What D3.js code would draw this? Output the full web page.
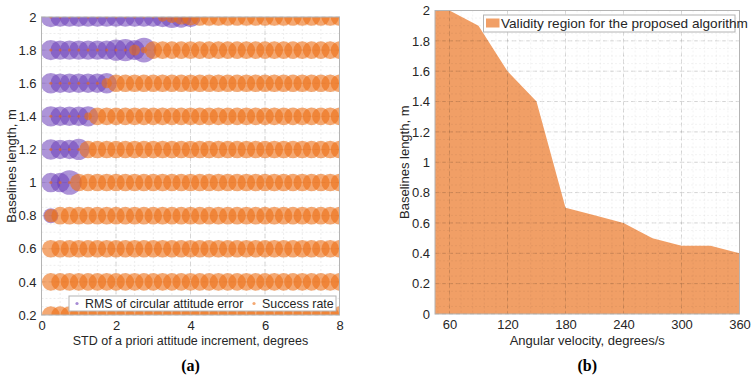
<!DOCTYPE html>
<html>
<head>
<meta charset="utf-8">
<script src="https://cdn.jsdelivr.net/npm/d3@7"></script>
<style>
  body { margin: 0; background: #fff; }
  svg { font-family: "Liberation Sans", Arial, sans-serif; }
</style>
</head>
<body>
<svg id="chart" width="756" height="377"></svg>
<script>
// ---- panel (a) data ----
const stdIncrement = [0.25, 0.5, 0.75, 1, 1.25, 1.5, 1.75, 2, 2.25, 2.5, 2.75, 3, 3.25, 3.5, 3.75, 4,
                      4.25, 4.5, 4.75, 5, 5.25, 5.5, 5.75, 6, 6.25, 6.5, 6.75, 7, 7.25, 7.5, 7.75, 8];
const baselineRows = [2, 1.8, 1.6, 1.4, 1.2, 1, 0.8, 0.6, 0.4, 0.2];

// RMS of circular attitude error (only where it was computed)
const rmsError = [
  [1.1, 1, 1, 1, 1, 1, 1, 1, 1, 1, 1, 1, 1.1, 1.3, 1.2, 1.1],
  [1.1, 1, 1, 1, 1, 1, 1, 1.2, 1.3, 1.1, 1.6],
  [1.1, 1, 1, 1, 1, 1, 1.1],
  [1.1, 1, 1, 1, 1.1],
  [1.1, 1, 1, 1.2],
  [1.0, 1, 1.6],
  [0.6],
  [],
  [],
  []
];

const successRate = [
  [0, 0, 0, 0, 0, 0, 0, 0, 0, 0, 0, 0, 0.2, 0.4, 0.7, 0.9, 1, 1, 1, 1, 1, 1, 1, 1, 1, 1, 1, 1, 1, 1, 1, 1],
  [0, 0, 0, 0, 0, 0, 0, 0, 0, 0.3, 0.05, 1, 1, 1, 1, 1, 1, 1, 1, 1, 1, 1, 1, 1, 1, 1, 1, 1, 1, 1, 1, 1],
  [0, 0, 0, 0, 0, 0, 0.25, 1, 1, 1, 1, 1, 1, 1, 1, 1, 1, 1, 1, 1, 1, 1, 1, 1, 1, 1, 1, 1, 1, 1, 1, 1],
  [0, 0, 0, 0, 0.1, 1, 1, 1, 1, 1, 1, 1, 1, 1, 1, 1, 1, 1, 1, 1, 1, 1, 1, 1, 1, 1, 1, 1, 1, 1, 1, 1],
  [0, 0, 0, 0, 1, 1, 1, 1, 1, 1, 1, 1, 1, 1, 1, 1, 1, 1, 1, 1, 1, 1, 1, 1, 1, 1, 1, 1, 1, 1, 1, 1],
  [0, 0, 0, 1, 1, 1, 1, 1, 1, 1, 1, 1, 1, 1, 1, 1, 1, 1, 1, 1, 1, 1, 1, 1, 1, 1, 1, 1, 1, 1, 1, 1],
  [0.5, 1, 1, 1, 1, 1, 1, 1, 1, 1, 1, 1, 1, 1, 1, 1, 1, 1, 1, 1, 1, 1, 1, 1, 1, 1, 1, 1, 1, 1, 1, 1],
  [1, 1, 1, 1, 1, 1, 1, 1, 1, 1, 1, 1, 1, 1, 1, 1, 1, 1, 1, 1, 1, 1, 1, 1, 1, 1, 1, 1, 1, 1, 1, 1],
  [1, 1, 1, 1, 1, 1, 1, 1, 1, 1, 1, 1, 1, 1, 1, 1, 1, 1, 1, 1, 1, 1, 1, 1, 1, 1, 1, 1, 1, 1, 1, 1],
  [1, 1, 1, 1, 1, 1, 1, 1, 1, 1, 1, 1, 1, 1, 1, 1, 1, 1, 1, 1, 1, 1, 1, 1, 1, 1, 1, 1, 1, 1, 1, 1]
];

const xTicksA = [0, 2, 4, 6, 8];
const yTicksA = [0.2, 0.4, 0.6, 0.8, 1, 1.2, 1.4, 1.6, 1.8, 2];

// ---- panel (b) data ----
const angularVelocity = [45, 60, 90, 120, 150, 180, 210, 240, 270, 300, 330, 360];
const validBaseline   = [2, 2, 1.9, 1.6, 1.4, 0.7, 0.65, 0.6, 0.5, 0.45, 0.45, 0.4];
const xTicksB = [60, 120, 180, 240, 300, 360];
const yTicksB = [0, 0.2, 0.4, 0.6, 0.8, 1, 1.2, 1.4, 1.6, 1.8, 2];

const purple = "rgb(106,61,184)";
const orange = "rgb(237,110,20)";
const areaFill = "#F19F66";
const textColor = "#262626";
const boxColor = "#b4b4b4";

const svg = d3.select("#chart");

function drawGrid(g, x, y, box, xMinor, yMinor, xMajor, yMajor, onTop) {
  const grid = g.append("g").attr("class", "grid");
  const minorColor = onTop ? "rgba(0,0,0,0.05)" : "#ededed";
  const majorColor = onTop ? "rgba(0,0,0,0.13)" : "#d6d6d6";
  grid.selectAll("line.xminor").data(xMinor).join("line")
    .attr("x1", x).attr("x2", x).attr("y1", box.y0).attr("y2", box.y1)
    .attr("stroke", minorColor).attr("stroke-dasharray", "2,2");
  grid.selectAll("line.yminor").data(yMinor).join("line")
    .attr("y1", y).attr("y2", y).attr("x1", box.x0).attr("x2", box.x1)
    .attr("stroke", minorColor).attr("stroke-dasharray", "2,2");
  grid.selectAll("line.xmajor").data(xMajor).join("line")
    .attr("x1", x).attr("x2", x).attr("y1", box.y0).attr("y2", box.y1)
    .attr("stroke", majorColor).attr("stroke-dasharray", "4,3");
  grid.selectAll("line.ymajor").data(yMajor).join("line")
    .attr("y1", y).attr("y2", y).attr("x1", box.x0).attr("x2", box.x1)
    .attr("stroke", majorColor).attr("stroke-dasharray", "4,3");
}

function drawAxes(g, x, y, box, xTicks, yTicks, yFmt) {
  g.append("rect")
    .attr("x", box.x0).attr("y", box.y0)
    .attr("width", box.x1 - box.x0).attr("height", box.y1 - box.y0)
    .attr("fill", "none").attr("stroke", boxColor);

  const ax = g.append("g").attr("transform", `translate(0,${box.y1})`)
    .call(d3.axisBottom(x).tickValues(xTicks).tickSize(0).tickPadding(6));
  const ay = g.append("g").attr("transform", `translate(${box.x0},0)`)
    .call(d3.axisLeft(y).tickValues(yTicks).tickSize(0).tickPadding(5).tickFormat(yFmt));
  [ax, ay].forEach(a => {
    a.select(".domain").remove();
    a.selectAll("text").attr("fill", textColor)
      .style("font-size", "13px").style("font-family", '"Liberation Sans", Arial, sans-serif');
  });
}

// ================= panel (a) =================
const A = { x0: 41.5, x1: 339.5, y0: 17, y1: 315 };
const xA = d3.scaleLinear().domain([0, 8]).range([A.x0, A.x1]);
const yA = d3.scaleLinear().domain([0.2, 2]).range([A.y1, A.y0]);
const rSuccess = d3.scaleSqrt().domain([0, 1]).range([1.5, 8.8]);
const rRms = d3.scaleSqrt().domain([0, 1.6]).range([0, 12.3]);

const gA = svg.append("g");
drawGrid(gA, xA, yA, A,
  d3.range(0.5, 8, 0.5), d3.range(0.25, 2, 0.05),
  [2, 4, 6], yTicksA, false);

svg.append("clipPath").attr("id", "clipA").append("rect")
  .attr("x", A.x0).attr("y", A.y0).attr("width", A.x1 - A.x0).attr("height", A.y1 - A.y0);

const purplePts = [], orangePts = [];
baselineRows.forEach((b, i) => {
  stdIncrement.forEach((s, j) => {
    if (rmsError[i][j] != null) purplePts.push({ x: s, y: b, v: rmsError[i][j] });
    orangePts.push({ x: s, y: b, v: successRate[i][j] });
  });
});

const bubbles = gA.append("g").attr("clip-path", "url(#clipA)");
bubbles.selectAll("circle.rms").data(purplePts).join("circle")
  .attr("class", "rms")
  .attr("cx", d => xA(d.x)).attr("cy", d => yA(d.y)).attr("r", d => rRms(d.v))
  .attr("fill", purple).attr("fill-opacity", 0.55);
bubbles.selectAll("circle.succ").data(orangePts).join("circle")
  .attr("class", "succ")
  .attr("cx", d => xA(d.x)).attr("cy", d => yA(d.y)).attr("r", d => rSuccess(d.v))
  .attr("fill", orange).attr("fill-opacity", 0.6);

drawAxes(gA, xA, yA, A, xTicksA, yTicksA, d3.format("~g"));

// legend (a)
const legA = gA.append("g");
legA.append("rect").attr("x", 69).attr("y", 296).attr("width", 267).attr("height", 15)
  .attr("fill", "#fff").attr("stroke", boxColor);
const legItemsA = [
  { label: "RMS of circular attitude error", color: purple, x: 77 },
  { label: "Success rate", color: orange, x: 254 }
];
legA.selectAll("circle").data(legItemsA).join("circle")
  .attr("cx", d => d.x).attr("cy", 303.5).attr("r", 1.6)
  .attr("fill", d => d.color).attr("fill-opacity", 0.6);
legA.selectAll("text").data(legItemsA).join("text")
  .attr("x", d => d.x + 8).attr("y", 308)
  .attr("fill", textColor).style("font-size", "12.4px")
  .text(d => d.label);

gA.append("text")
  .attr("x", (A.x0 + A.x1) / 2).attr("y", 345)
  .attr("text-anchor", "middle").attr("fill", textColor).style("font-size", "12.5px")
  .text("STD of a priori attitude increment, degrees");
gA.append("text")
  .attr("transform", `translate(16,${(A.y0 + A.y1) / 2}) rotate(-90)`)
  .attr("text-anchor", "middle").attr("fill", textColor).style("font-size", "13px")
  .text("Baselines length, m");
gA.append("text")
  .attr("x", (A.x0 + A.x1) / 2).attr("y", 371)
  .attr("text-anchor", "middle").attr("fill", "#000")
  .style("font-family", '"Liberation Serif", "Times New Roman", serif')
  .style("font-size", "16px").style("font-weight", "bold")
  .text("(a)");

// ================= panel (b) =================
const B = { x0: 435, x1: 739.5, y0: 10.5, y1: 314 };
const xB = d3.scaleLinear().domain([45, 360]).range([B.x0, B.x1]);
const yB = d3.scaleLinear().domain([0, 2]).range([B.y1, B.y0]);

const gB = svg.append("g");
const areaData = angularVelocity.map((v, i) => ({ v, b: validBaseline[i] }));
gB.append("path").datum(areaData)
  .attr("fill", areaFill)
  .attr("d", d3.area().x(d => xB(d.v)).y0(yB(0)).y1(d => yB(d.b)));

drawGrid(gB, xB, yB, B,
  d3.range(48, 360, 12), d3.range(0.05, 2, 0.05),
  xTicksB, yTicksB, true);

drawAxes(gB, xB, yB, B, xTicksB, yTicksB, d3.format("~g"));

// legend (b)
const legB = gB.append("g");
legB.append("rect").attr("x", 483.5).attr("y", 15).attr("width", 251.5).attr("height", 17)
  .attr("fill", "#fff").attr("stroke", boxColor);
legB.append("rect").attr("x", 486).attr("y", 18.5).attr("width", 13.5).attr("height", 9)
  .attr("fill", areaFill);
legB.append("text").attr("x", 501).attr("y", 28)
  .attr("fill", textColor).style("font-size", "13.6px")
  .text("Validity region for the proposed algorithm");

gB.append("text")
  .attr("x", (B.x0 + B.x1) / 2).attr("y", 345)
  .attr("text-anchor", "middle").attr("fill", textColor).style("font-size", "13px")
  .text("Angular velocity, degrees/s");
gB.append("text")
  .attr("transform", `translate(409,${(B.y0 + B.y1) / 2}) rotate(-90)`)
  .attr("text-anchor", "middle").attr("fill", textColor).style("font-size", "13px")
  .text("Baselines length, m");
gB.append("text")
  .attr("x", (B.x0 + B.x1) / 2).attr("y", 371)
  .attr("text-anchor", "middle").attr("fill", "#000")
  .style("font-family", '"Liberation Serif", "Times New Roman", serif')
  .style("font-size", "16px").style("font-weight", "bold")
  .text("(b)");
</script>
</body>
</html>
